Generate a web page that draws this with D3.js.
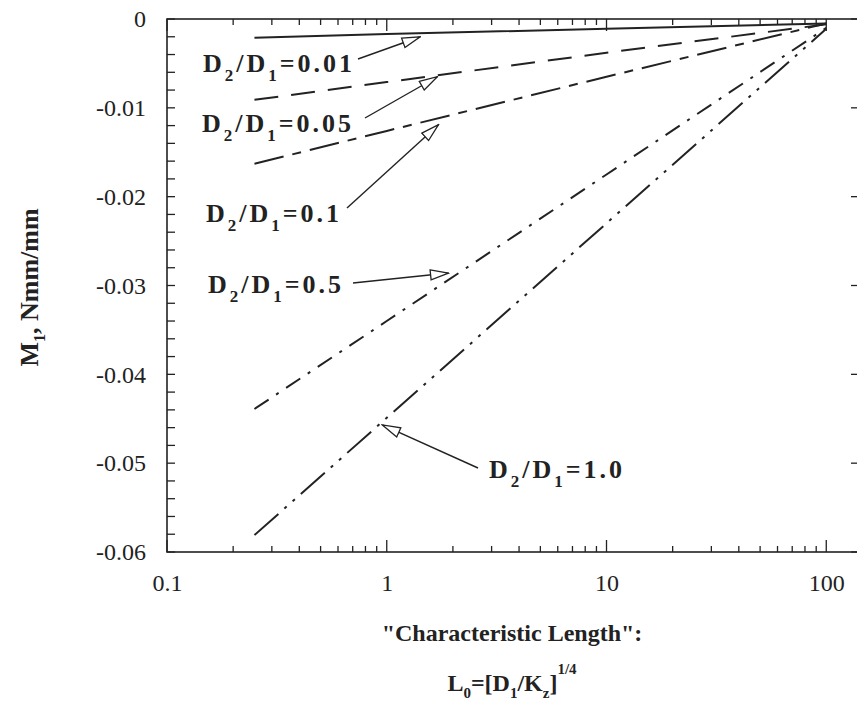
<!DOCTYPE html>
<html>
<head>
<meta charset="utf-8">
<script src="https://cdn.jsdelivr.net/npm/d3@7"></script>
<style>
  body { margin: 0; background: #fff; }
  svg { display: block; }
  text { font-family: "Liberation Serif", "Times New Roman", serif; fill: #222; }
</style>
</head>
<body>
<svg width="857" height="706"></svg>
<script>
// characteristic length L0 (log axis) where each curve was read
const lengths = [0.25, 1, 10, 100];
const ratios = ["0.01", "0.05", "0.1", "0.5", "1.0"];
// M1 in Nmm/mm
const m001 = [-0.0021, -0.0017, -0.0011, -0.0005];
const m005 = [-0.0091, -0.0071, -0.0038, -0.0006];
const m01  = [-0.0163, -0.0126, -0.0065, -0.0005];
const m05  = [-0.0439, -0.0340, -0.0175, -0.0010];
const m10  = [-0.0581, -0.0449, -0.0230, -0.0011];
const yTicks = [0, -0.01, -0.02, -0.03, -0.04, -0.05, -0.06];
const xTicks = [0.1, 1, 10, 100];
// where each label's arrow points (data units)
const arrowTx = [1.42, 1.70, 1.72, 1.91, 0.955];
const arrowTy = [-0.0020, -0.0065, -0.0119, -0.0286, -0.0457];

const svg = d3.select("svg");
const pLeft = 167, pRight = 858, pTop = 19, pBottom = 552;

const x = d3.scaleLog().domain([0.1, 138]).range([pLeft, 857]);
const y = d3.scaleLinear().domain([-0.06, 0]).range([pBottom, pTop]);

const ink = "#222";

// frame
svg.append("rect")
  .attr("x", pLeft).attr("y", pTop)
  .attr("width", pRight - pLeft).attr("height", pBottom - pTop)
  .attr("fill", "none").attr("stroke", ink).attr("stroke-width", 1.6);

// y ticks (inside, left and right)
const yMinor = d3.range(0, 31).map(i => -i * 0.002);
svg.append("g").selectAll("line").data(yMinor).enter().append("line")
  .attr("x1", pLeft).attr("x2", pLeft + 8)
  .attr("y1", d => y(d)).attr("y2", d => y(d))
  .attr("stroke", ink).attr("stroke-width", 1.3);
svg.append("g").selectAll("line").data(yTicks).enter().append("line")
  .attr("x1", pRight - 7).attr("x2", pRight)
  .attr("y1", d => y(d)).attr("y2", d => y(d))
  .attr("stroke", ink).attr("stroke-width", 1.3);

// x ticks (log, inside, bottom and top)
const xMinor = [];
[0.1, 1, 10, 100].forEach(dec => {
  for (let k = 1; k < 10; k++) if (dec * k <= 138) xMinor.push(dec * k);
});
const isMajor = d => xTicks.some(t => Math.abs(t - d) < 1e-9);
svg.append("g").selectAll("line").data(xMinor).enter().append("line")
  .attr("x1", d => x(d)).attr("x2", d => x(d))
  .attr("y1", pBottom).attr("y2", d => pBottom - (isMajor(d) ? 12 : 6))
  .attr("stroke", ink).attr("stroke-width", 1.3);
svg.append("g").selectAll("line").data(xMinor).enter().append("line")
  .attr("x1", d => x(d)).attr("x2", d => x(d))
  .attr("y1", pTop).attr("y2", d => pTop + (isMajor(d) ? 12 : 6))
  .attr("stroke", ink).attr("stroke-width", 1.3);

// tick labels through the axis generators
const yAxis = svg.append("g")
  .attr("transform", `translate(${pLeft},0)`)
  .call(d3.axisLeft(y).tickValues(yTicks).tickSize(0).tickPadding(21)
    .tickFormat(d => d === 0 ? "0" : d3.format(".2f")(d).replace("−", "-")));
yAxis.select(".domain").remove();
yAxis.selectAll("text").attr("font-size", 24).attr("font-family", null).style("fill", ink);

const xAxis = svg.append("g")
  .attr("transform", `translate(0,${pBottom})`)
  .call(d3.axisBottom(x).tickValues(xTicks).tickSize(0).tickPadding(22)
    .tickFormat(d => String(d)));
xAxis.select(".domain").remove();
xAxis.selectAll("text").attr("font-size", 24).attr("font-family", null).style("fill", ink);

// curves
const series = [m001, m005, m01, m05, m10];
const dashes = [null, "24,13", "30,9,9,9", "17,9,3,9", "32,8,3,8,3,8"];
const line = d3.line().x(d => x(d[0])).y(d => y(d[1]));
series.forEach((vals, i) => {
  svg.append("path")
    .datum(lengths.map((l, j) => [l, vals[j]]))
    .attr("d", line)
    .attr("fill", "none")
    .attr("stroke", ink)
    .attr("stroke-width", 2)
    .attr("stroke-dasharray", dashes[i]);
});

// arrow marker (open head)
svg.append("defs").append("marker")
  .attr("id", "head")
  .attr("viewBox", "0 0 20 12")
  .attr("refX", 19).attr("refY", 6)
  .attr("markerWidth", 20).attr("markerHeight", 12)
  .attr("markerUnits", "userSpaceOnUse")
  .attr("orient", "auto")
  .append("path")
  .attr("d", "M1,1 L19,6 L1,11 Z")
  .attr("fill", "#fff").attr("stroke", ink).attr("stroke-width", 1.3);

// label placement (pixels) and arrow tails
const labelX = [203, 202, 206, 208, 489];
const labelY = [72, 132, 222, 293, 478];
const tailX = [358, 365, 347, 353, 478];
const tailY = [59, 118, 208, 283, 468];

ratios.forEach((r, i) => {
  svg.append("line")
    .attr("x1", tailX[i]).attr("y1", tailY[i])
    .attr("x2", x(arrowTx[i])).attr("y2", y(arrowTy[i]))
    .attr("stroke", ink).attr("stroke-width", 1.4)
    .attr("marker-end", "url(#head)");

  const t = svg.append("text")
    .attr("x", labelX[i]).attr("y", labelY[i])
    .attr("font-size", 26).attr("font-weight", "bold")
    .attr("letter-spacing", 3);
  t.append("tspan").text("D");
  t.append("tspan").attr("dy", 9).attr("font-size", 17).text("2");
  t.append("tspan").attr("dy", -9).text("/D");
  t.append("tspan").attr("dy", 9).attr("font-size", 17).text("1");
  t.append("tspan").attr("dy", -9).text("=" + r);
});

// axis titles
const yt = svg.append("text")
  .attr("transform", `translate(38,${(pTop + pBottom) / 2 + 2}) rotate(-90)`)
  .attr("text-anchor", "middle")
  .attr("font-size", 26).attr("font-weight", "bold");
yt.append("tspan").text("M");
yt.append("tspan").attr("dy", 7).attr("font-size", 16).text("1");
yt.append("tspan").attr("dy", -7).text(", Nmm/mm");

svg.append("text")
  .attr("x", 512).attr("y", 641)
  .attr("text-anchor", "middle")
  .attr("font-size", 24).attr("font-weight", "bold")
  .text("\"Characteristic Length\":");

const lt = svg.append("text")
  .attr("x", 512).attr("y", 691)
  .attr("text-anchor", "middle")
  .attr("font-size", 24).attr("font-weight", "bold");
lt.append("tspan").text("L");
lt.append("tspan").attr("dy", 7).attr("font-size", 15).text("0");
lt.append("tspan").attr("dy", -7).text("=[D");
lt.append("tspan").attr("dy", 7).attr("font-size", 15).text("1");
lt.append("tspan").attr("dy", -7).text("/K");
lt.append("tspan").attr("dy", 7).attr("font-size", 15).text("z");
lt.append("tspan").attr("dy", -7).text("]");
lt.append("tspan").attr("dy", -17).attr("font-size", 15).text("1/4");
</script>
</body>
</html>
